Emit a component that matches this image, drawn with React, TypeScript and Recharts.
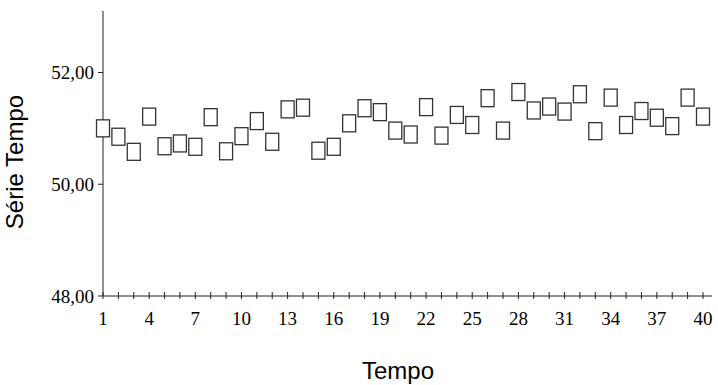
import React from 'react'
import { ScatterChart, Scatter, XAxis, YAxis, Label } from 'recharts'

const tempo = [
  1, 2, 3, 4, 5, 6, 7, 8, 9, 10, 11, 12, 13, 14, 15, 16, 17, 18, 19, 20,
  21, 22, 23, 24, 25, 26, 27, 28, 29, 30, 31, 32, 33, 34, 35, 36, 37, 38, 39, 40,
]

const serieTempo = [
  51.0, 50.85, 50.58, 51.21, 50.68, 50.73, 50.67, 51.2, 50.59, 50.86,
  51.13, 50.76, 51.34, 51.37, 50.6, 50.67, 51.09, 51.36, 51.29, 50.96,
  50.89, 51.38, 50.87, 51.24, 51.06, 51.54, 50.96, 51.65, 51.32, 51.39,
  51.3, 51.61, 50.95, 51.55, 51.06, 51.31, 51.19, 51.04, 51.55, 51.21,
]

const xLabels = [1, 4, 7, 10, 13, 16, 19, 22, 25, 28, 31, 34, 37, 40]
const yTicks = [48, 50, 52]

const data = tempo.map((t, i) => ({ t, v: serieTempo[i] }))

const AXIS = '#222'
const SERIF = '"Liberation Serif", "Times New Roman", serif'
const SANS = '"Liberation Sans", Arial, sans-serif'

const XTick = (props: any) => {
  const { x, y, payload } = props
  const show = xLabels.includes(payload.value)
  return (
    <g>
      <line x1={x} y1={y - 4} x2={x} y2={y + 3} stroke={AXIS} strokeWidth={1} />
      {show && (
        <text x={x} y={y + 16} dy="0.71em" textAnchor="middle" fontFamily={SERIF} fontSize={19} fill="#000">
          {payload.value}
        </text>
      )}
    </g>
  )
}

const Box = (props: any) => {
  const { cx, cy } = props
  return <rect x={cx - 6.5} y={cy - 8.5} width={13} height={17} fill="#fff" stroke="#333" strokeWidth={1.3} />
}

export default function App() {
  return (
    <div style={{ position: 'absolute', left: 0, top: 0, background: '#fff' }}>
      <ScatterChart width={718} height={385} margin={{ top: 11, right: 6, bottom: 0, left: 0 }}>
        <XAxis
          type="number"
          dataKey="t"
          domain={[1, 40]}
          ticks={tempo}
          interval={0}
          padding={{ left: 0, right: 9 }}
          height={89}
          stroke={AXIS}
          tickLine={false}
          tickSize={0}
          tickMargin={0}
          tick={<XTick />}
        >
          <Label
            content={() => (
              <text x={398} y={379} textAnchor="middle" fontFamily={SANS} fontSize={24} fill="#000">
                Tempo
              </text>
            )}
          />
        </XAxis>
        <YAxis
          type="number"
          dataKey="v"
          domain={[48, 53.1]}
          ticks={yTicks}
          width={103}
          stroke={AXIS}
          tickSize={5}
          tickMargin={4}
          tickFormatter={(v: number) => v.toFixed(2).replace('.', ',')}
          tick={{ fontFamily: SERIF, fontSize: 19, fill: '#000' }}
        >
          <Label
            content={() => (
              <text
                x={23}
                y={162}
                transform="rotate(-90 23 162)"
                textAnchor="middle"
                fontFamily={SANS}
                fontSize={24}
                fill="#000"
              >
                Série Tempo
              </text>
            )}
          />
        </YAxis>
        <Scatter data={data} shape={<Box />} isAnimationActive={false} />
      </ScatterChart>
    </div>
  )
}
